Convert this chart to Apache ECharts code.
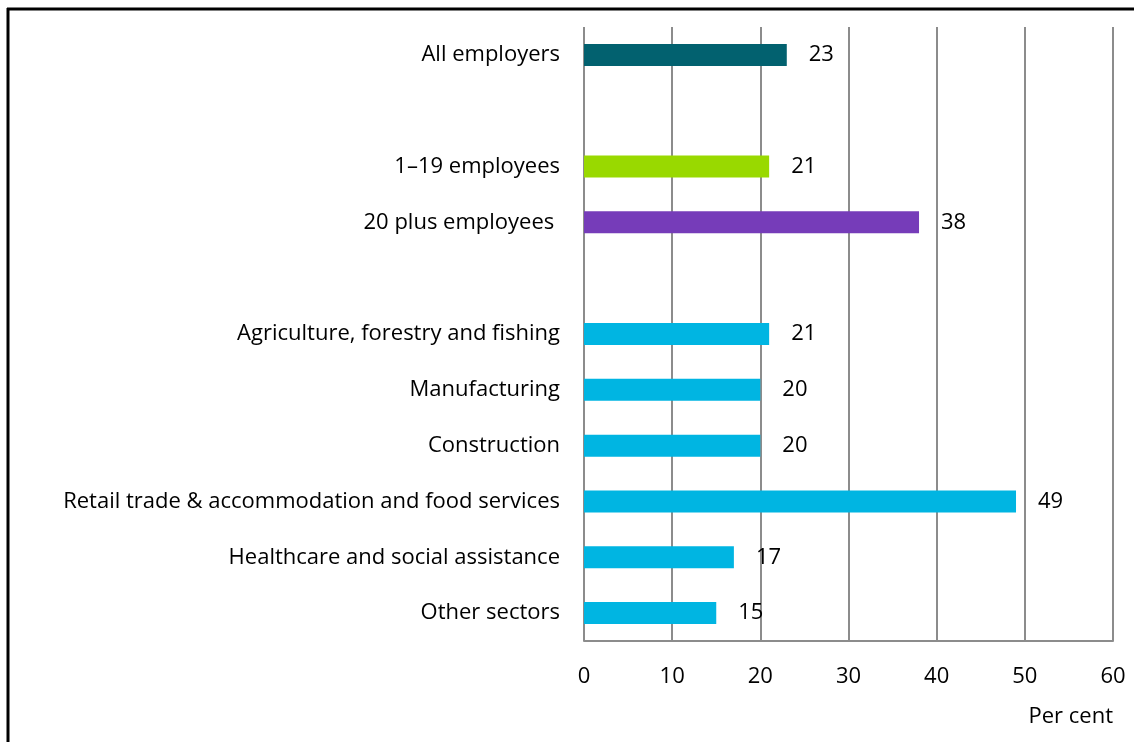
<!DOCTYPE html>
<html><head><meta charset="utf-8">
<script src="https://cdn.jsdelivr.net/npm/echarts@6/dist/echarts.min.js"></script>
<style>html,body{margin:0;padding:0;background:#fff}#c{width:1134px;height:742px}</style>
</head><body><div id="c"></div>
<script>
const categories = ['All employers', ' ', '1–19 employees', '20 plus employees ', '  ', 'Agriculture, forestry and fishing', 'Manufacturing', 'Construction', 'Retail trade & accommodation and food services', 'Healthcare and social assistance', 'Other sectors'];
const values = [23, null, 21, 38, null, 21, 20, 20, 49, 17, 15];
const barColors = ['#02616F', null, '#99D900', '#763CB9', null, '#00B5E2', '#00B5E2', '#00B5E2', '#00B5E2', '#00B5E2', '#00B5E2'];
const xTicks = [0, 10, 20, 30, 40, 50, 60];
const FONT = 'Open Sans';
const FS = 22;

const chart = echarts.init(document.getElementById('c'));
chart.setOption({
  animation: false,
  grid: {left: 584, right: 21, top: 27, bottom: 101, containLabel: false},
  xAxis: {
    type: 'value', min: xTicks[0], max: xTicks[xTicks.length - 1], interval: 10,
    axisLine: {show: true, lineStyle: {color: '#8c8c8c', width: 2}},
    axisTick: {show: false},
    axisLabel: {color: '#000', fontFamily: FONT, fontSize: FS, margin: 25},
    splitLine: {show: true, lineStyle: {color: '#8c8c8c', width: 2}}
  },
  yAxis: {
    type: 'category', data: categories, inverse: true,
    axisLine: {show: false}, axisTick: {show: false},
    axisLabel: {color: '#000', fontFamily: FONT, fontSize: FS, margin: 24, padding: [7, 0, 0, 0]}
  },
  series: [{
    type: 'bar', barWidth: 22,
    data: values.map((v, i) => v === null ? null : {value: v, itemStyle: {color: barColors[i]}}),
    label: {show: true, position: 'right', distance: 22, color: '#000', fontFamily: FONT, fontSize: FS, padding: [7, 0, 0, 0]}
  }],
  graphic: [
    {type: 'line', shape: {x1: 7, y1: 9, x2: 1134, y2: 9}, style: {stroke: '#000', lineWidth: 3}},
    {type: 'line', shape: {x1: 8, y1: 8, x2: 8, y2: 742}, style: {stroke: '#000', lineWidth: 3}},
    {type: 'text', right: 21, top: 706, style: {text: 'Per cent', fill: '#000', font: FS + 'px "' + FONT + '"'}}
  ]
});
</script></body></html>
